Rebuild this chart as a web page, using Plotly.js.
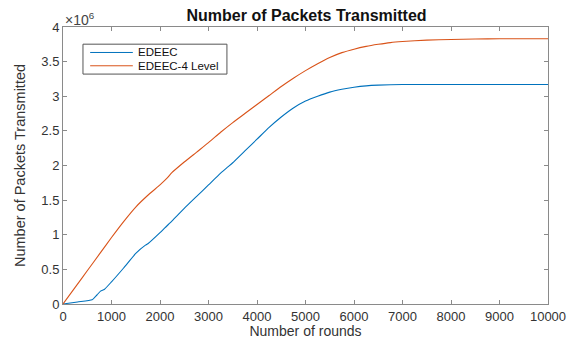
<!DOCTYPE html>
<html>
<head>
<meta charset="utf-8">
<script src="https://cdn.plot.ly/plotly-3.0.1.min.js"></script>
<style>
  html, body { margin: 0; padding: 0; background: #fff; }
  #chart { width: 573px; height: 339px; }
</style>
</head>
<body>
<div id="chart"></div>
<script>
// Cumulative packets delivered to the base station (in millions) per round
const edeecRounds = [0, 300, 600, 700, 780, 850, 1000, 1250, 1500, 1700, 1750, 2000, 2100, 2250, 2500, 2750, 3000, 3250, 3400, 3500, 3750, 4000, 4250, 4500, 4750, 5000, 5250, 5500, 5750, 6000, 6250, 6500, 7000, 10000];
const edeecPackets = [0, 0.03, 0.06, 0.13, 0.19, 0.21, 0.32, 0.52, 0.73, 0.85, 0.87, 1.03, 1.10, 1.20, 1.38, 1.55, 1.72, 1.89, 1.98, 2.04, 2.21, 2.38, 2.55, 2.70, 2.83, 2.93, 3.00, 3.06, 3.10, 3.13, 3.15, 3.16, 3.17, 3.17];

const edeec4Rounds = [0, 250, 500, 750, 1000, 1250, 1500, 1750, 2000, 2150, 2250, 2500, 2750, 3000, 3250, 3500, 3750, 4000, 4250, 4500, 4750, 5000, 5250, 5500, 5750, 6000, 6250, 6500, 6750, 7000, 7500, 8000, 8500, 9000, 10000];
const edeec4Packets = [0, 0.24, 0.48, 0.72, 0.96, 1.19, 1.40, 1.57, 1.72, 1.82, 1.90, 2.05, 2.19, 2.33, 2.48, 2.62, 2.75, 2.88, 3.01, 3.14, 3.26, 3.37, 3.47, 3.56, 3.63, 3.68, 3.72, 3.75, 3.775, 3.79, 3.81, 3.82, 3.827, 3.83, 3.83];

const seriesNames = ['EDEEC', 'EDEEC-4 Level'];
const seriesColors = ['#0072BD', '#D95319'];

const xTicks = [0, 1000, 2000, 3000, 4000, 5000, 6000, 7000, 8000, 9000, 10000];
const xTickText = ['0', '1000', '2000', '3000', '4000', '5000', '6000', '7000', '8000', '9000', '10000'];
const yTicks = [0, 0.5, 1, 1.5, 2, 2.5, 3, 3.5, 4];
const yTickText = ['0', '0.5', '1', '1.5', '2', '2.5', '3', '3.5', '4'];

const FONT = 'Liberation Sans, Arial, sans-serif';

const traces = [
  {
    x: edeecRounds, y: edeecPackets, name: seriesNames[0],
    type: 'scatter', mode: 'lines',
    line: { color: seriesColors[0], width: 1.1, shape: 'spline', smoothing: 0.5 }
  },
  {
    x: edeec4Rounds, y: edeec4Packets, name: seriesNames[1],
    type: 'scatter', mode: 'lines',
    line: { color: seriesColors[1], width: 1.1, shape: 'spline', smoothing: 0.5 }
  }
];

const axisCommon = {
  showline: true, mirror: 'ticks', linecolor: '#8a8a8a', linewidth: 1,
  ticks: 'inside', ticklen: 4, tickcolor: '#8a8a8a', tickwidth: 1,
  showgrid: false, zeroline: false,
  tickfont: { family: FONT, size: 13, color: '#333' }
};

// Boxed legend in the upper-left corner of the axes (paper coordinates)
const legendBox = { x0: 0.0412, x1: 0.338, y0: 0.830, y1: 0.938 };
const legendRows = [0.908, 0.860];
const shapes = [{
  type: 'rect', xref: 'paper', yref: 'paper',
  x0: legendBox.x0, x1: legendBox.x1, y0: legendBox.y0, y1: legendBox.y1,
  line: { color: '#555', width: 1 }, fillcolor: '#fff'
}];
const annotations = [{
  xref: 'paper', yref: 'paper', x: 0.0, y: 1.0, xanchor: 'left', yanchor: 'bottom',
  yshift: -3, text: '×10<sup>6</sup>', showarrow: false,
  font: { family: FONT, size: 14, color: '#444' }
}];
seriesNames.forEach((name, i) => {
  shapes.push({
    type: 'line', xref: 'paper', yref: 'paper',
    x0: 0.056, x1: 0.144, y0: legendRows[i], y1: legendRows[i],
    line: { color: seriesColors[i], width: 1 }
  });
  annotations.push({
    xref: 'paper', yref: 'paper', x: 0.152, y: legendRows[i],
    xanchor: 'left', yanchor: 'middle', text: name, showarrow: false,
    borderpad: 0,
    font: { family: FONT, size: 11.5, color: '#111' }
  });
});

const layout = {
  width: 573, height: 339,
  margin: { l: 63, r: 25, t: 27, b: 35 },
  paper_bgcolor: '#fff', plot_bgcolor: '#fff',
  title: {
    text: '<b>Number of Packets Transmitted</b>',
    font: { family: FONT, size: 16, color: '#111' },
    x: 0.535, xanchor: 'center', y: 0.955, yanchor: 'middle'
  },
  xaxis: Object.assign({}, axisCommon, {
    range: [0, 10000], tickvals: xTicks, ticktext: xTickText,
    title: { text: 'Number of rounds', font: { family: FONT, size: 14, color: '#333' }, standoff: 6 }
  }),
  yaxis: Object.assign({}, axisCommon, {
    range: [0, 4], tickvals: yTicks, ticktext: yTickText,
    title: { text: 'Number of Packets Transmitted', font: { family: FONT, size: 14.5, color: '#333' }, standoff: 12 }
  }),
  showlegend: false,
  shapes: shapes,
  annotations: annotations
};

Plotly.newPlot('chart', traces, layout, { displayModeBar: false, staticPlot: true });
</script>
</body>
</html>
